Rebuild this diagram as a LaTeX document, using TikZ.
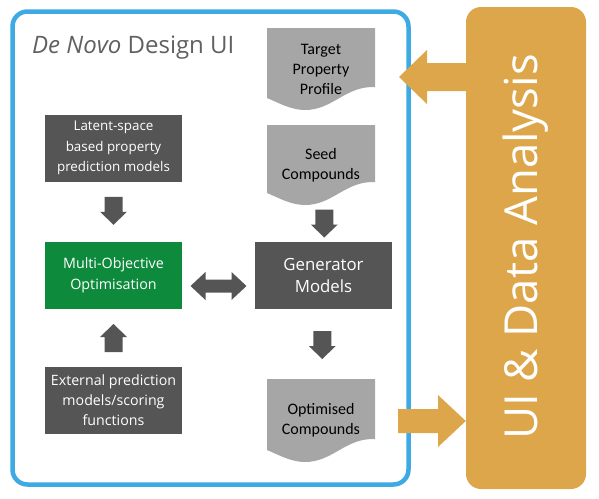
\documentclass[tikz,border=0pt]{standalone}
\usepackage{fontspec}
\setmainfont{Open Sans}
\newfontfamily\docfont{Carlito}
\usetikzlibrary{calc}
\definecolor{uiblue}{HTML}{3DAAE3}
\definecolor{uiorange}{HTML}{DEA64A}
\definecolor{darkbox}{HTML}{555555}
\definecolor{greenbox}{HTML}{0E8A3C}
\definecolor{docgray}{HTML}{A6A6A6}
\definecolor{titlegray}{HTML}{606060}
\tikzset{
  darkblock/.style={fill=darkbox, text=white, minimum width=137pt, minimum height=67pt, inner sep=0pt, align=center, font=\fontsize{13.8}{20.5}\selectfont},
  greenblock/.style={darkblock, fill=greenbox},
  docnode/.style={minimum width=108pt, inner sep=0pt, align=center, font=\docfont\fontsize{16}{20}\selectfont,
    path picture={\fill[docgray] (path picture bounding box.north west) -- (path picture bounding box.north east)
      -- ($(path picture bounding box.south east)+(0,-23)$) .. controls +(-30,-1) and +(28,0) ..
      ($(path picture bounding box.south west)+(38,0)$) .. controls +(-14,0) and +(12,5) ..
      ($(path picture bounding box.south west)+(0,-12)$) -- cycle;}},
  pics/blkdown/.style={code={\fill[darkbox] (-9,-14) -- (9,-14) -- (9,1) -- (13.5,1) -- (0,14) -- (-13.5,1) -- (-9,1) -- cycle;}},
  pics/blkup/.style={code={\fill[darkbox] (-9,14) -- (9,14) -- (9,-1) -- (13.5,-1) -- (0,-14) -- (-13.5,-1) -- (-9,-1) -- cycle;}},
  pics/blkboth/.style={code={\fill[darkbox] (-28,0) -- (-13,-14) -- (-13,-6.5) -- (13,-6.5) -- (13,-14) -- (28,0) -- (13,14) -- (13,6.5) -- (-13,6.5) -- (-13,14) -- cycle;}}
}
\begin{document}
\begin{tikzpicture}[x=1pt,y=-1pt]
\useasboundingbox (0,0) rectangle (599,498);
% outer panels
\node[draw=uiblue, line width=4.5pt, rounded corners=15pt, minimum width=396pt, minimum height=473pt, inner sep=0pt] (ui) at (210.5,248) {};
\node[fill=uiorange, rounded corners=15pt, minimum width=120pt, minimum height=482pt, inner sep=0pt] (ana) at (526,248) {};
\node[rotate=90, text=white, font=\fontsize{45.5}{45.5}\selectfont, inner sep=0pt] (anatext) at (526,247) {UI \& Data Analysis};
% title
\node[anchor=base west, text=titlegray, font=\fontsize{24}{24}\selectfont, inner sep=0pt] (title) at (32,53) {\textit{De Novo} Design UI};
% document shapes
\node[docnode, minimum height=82pt] (target) at (321,69) {Target\\Property\\Profile};
\node[docnode, minimum height=80pt] (seed) at (321,165) {\raisebox{4pt}{\parbox{108pt}{\centering Seed\\Compounds}}};
\node[docnode, minimum height=83pt] (opt) at (321,420.5) {\raisebox{3pt}{\parbox{108pt}{\centering Optimised\\Compounds}}};
% blocks
\node[darkblock, font=\fontsize{13.4}{20.5}\selectfont] (lat) at (113.5,148) {Latent-space\\based property\\prediction models};
\node[greenblock, font=\fontsize{14.3}{21}\selectfont] (moo) at (113.5,275.5) {Multi-Objective\\Optimisation};
\node[darkblock, font=\fontsize{16.8}{22.5}\selectfont] (gen) at (323.5,275.5) {Generator\\Models};
\node[darkblock, font=\fontsize{14.2}{20}\selectfont] (ext) at (113.5,400.5) {External prediction\\models/scoring\\functions};
% dark block arrows
\pic at ($(lat.south)!0.5!(moo.north)+(0,-1)$) {blkdown};
\pic at ($(ext.north)!0.5!(moo.south)$) {blkup};
\pic at ($(seed.south)!0.5!(gen.north)+(2,0)$) {blkdown};
\pic at ($(gen.south)!0.5!(opt.north)+(0,1)$) {blkdown};
\pic at ($(moo.east)!0.5!(gen.west)+(0,10.5)$) {blkboth};
% orange arrows
\coordinate (inTip) at (399,77);
\fill[uiorange] (inTip) -- (427,50) -- (427,63) -- (ana.west |- 0,63) -- (ana.west |- 0,91) -- (427,91) -- (427,104) -- cycle;
\coordinate (outTip) at (ana.west |- 0,421);
\fill[uiorange] (398,409) -- (438,409) -- (438,395) -- (outTip) -- (438,447) -- (438,433) -- (398,433) -- cycle;
\end{tikzpicture}
\end{document}
